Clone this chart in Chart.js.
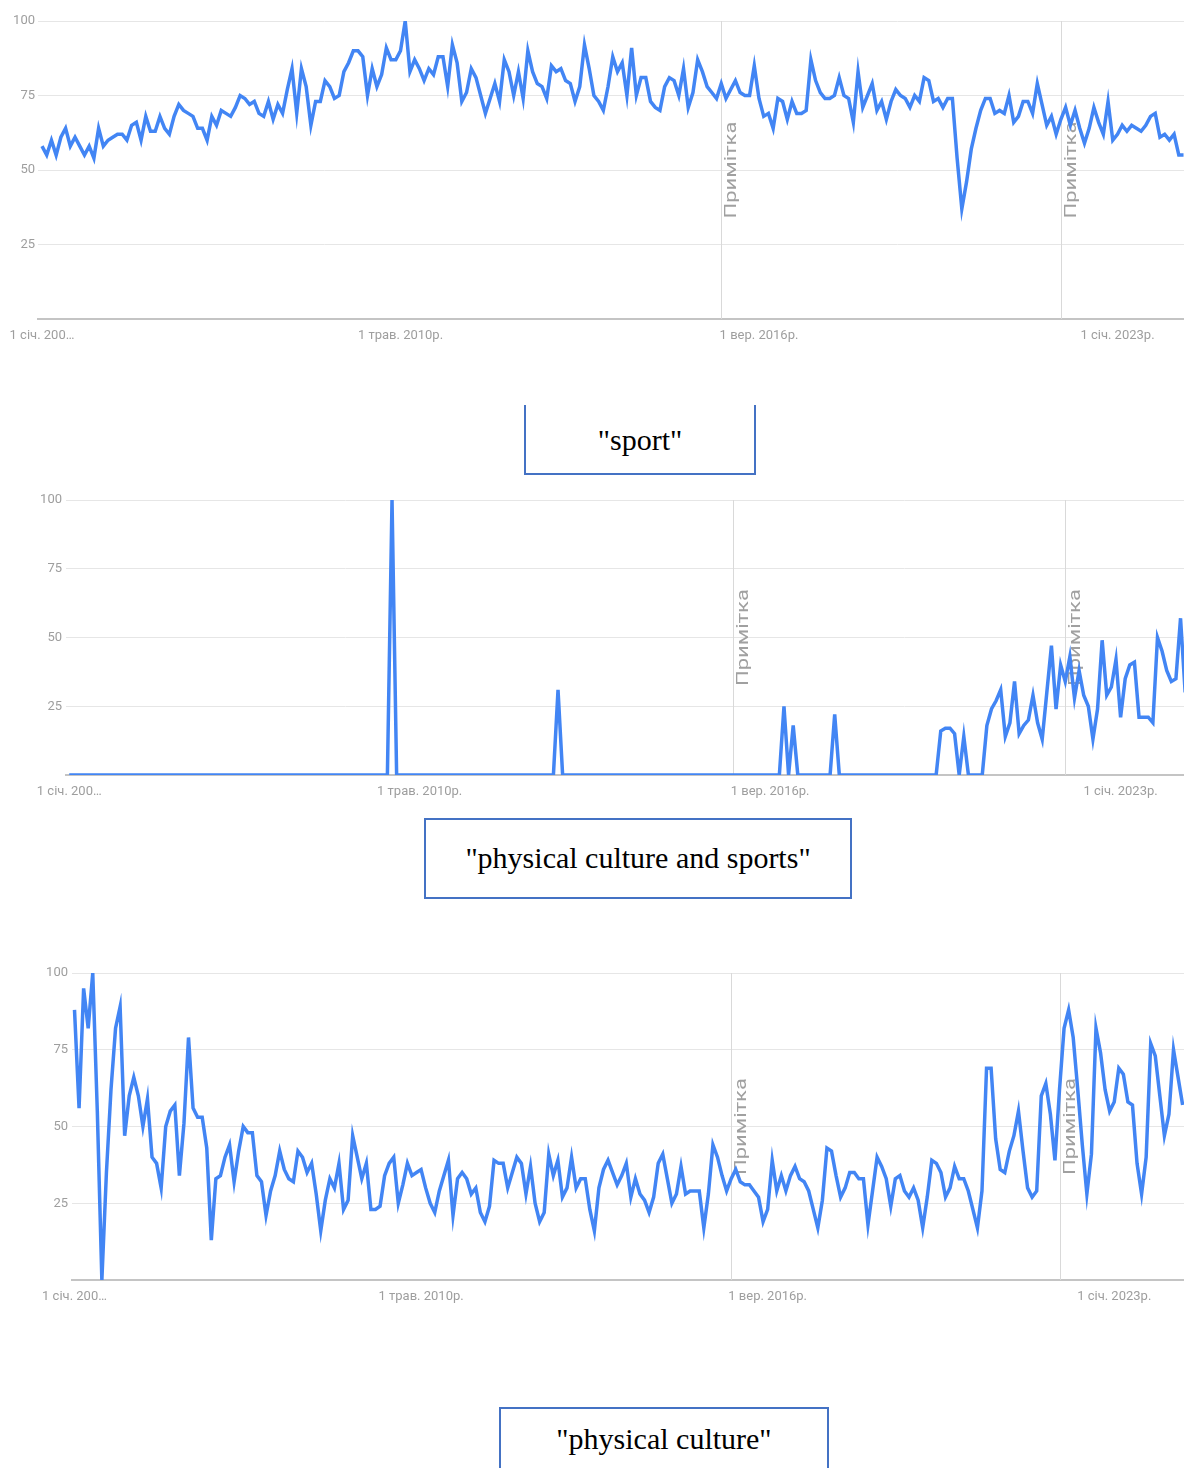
<!DOCTYPE html>
<html>
<head>
<meta charset="utf-8">
<script src="https://cdn.jsdelivr.net/npm/chart.js@4.4.1/dist/chart.umd.min.js"></script>
<style>
  html, body { margin: 0; padding: 0; background: #fff; }
  body { position: relative; width: 1184px; height: 1468px; overflow: hidden; }
  canvas { position: absolute; left: 0; }
  .box {
    position: absolute; box-sizing: border-box;
    border: 2px solid #4472c4;
    font-family: 'Liberation Serif', 'Times New Roman', serif;
    font-size: 30px; line-height: 33px; color: #000;
    text-align: center; white-space: nowrap;
  }
</style>
</head>
<body>
<canvas id="sport" width="1184" height="343" style="top:6px"></canvas>
<div class="box" style="left:524px; top:405px; width:232px; height:70px; border-top:none; padding-top:18px">"sport"</div>
<canvas id="pcs" width="1184" height="320" style="top:485px"></canvas>
<div class="box" style="left:424px; top:818px; width:428px; height:81px; padding-top:21px">"physical culture and sports"</div>
<canvas id="pc" width="1184" height="352" style="top:958px"></canvas>
<div class="box" style="left:499px; top:1407px; width:330px; height:100px; border-bottom:none; padding-top:13px">"physical culture"</div>

<script>
// monthly values, Jan 2004 onward (month index 0 = 1 січ. 2004)
const sportValues = [
  58, 55, 60, 55, 61, 64, 58, 61, 58, 55,
  58, 54, 64, 58, 60, 61, 62, 62, 60, 65,
  66, 60, 68, 63, 63, 68, 64, 62, 68, 72,
  70, 69, 68, 64, 64, 60, 68, 65, 70, 69,
  68, 71, 75, 74, 72, 73, 69, 68, 73, 67,
  72, 69, 77, 84, 69, 84, 78, 65, 73, 73,
  80, 78, 74, 75, 83, 86, 90, 90, 88, 75,
  84, 78, 82, 91, 87, 87, 90, 100, 83, 87,
  84, 80, 84, 82, 88, 88, 78, 92, 86, 73,
  76, 84, 81, 75, 69, 74, 79, 73, 87, 83,
  75, 83, 74, 90, 83, 79, 78, 74, 85, 83,
  84, 80, 79, 73, 78, 92, 84, 75, 73, 70,
  78, 88, 83, 86, 75, 91, 75, 81, 81, 73,
  71, 70, 78, 81, 80, 75, 84, 71, 76, 87,
  83, 78, 76, 74, 79, 74, 77, 80, 76, 75,
  75, 85, 74, 68, 69, 64, 74, 73, 67, 73,
  69, 69, 70, 87, 80, 76, 74, 74, 75, 81,
  75, 74, 66, 83, 71, 75, 79, 70, 73, 67,
  73, 77, 75, 74, 71, 75, 73, 81, 80, 73,
  74, 71, 74, 74, 54, 37, 46, 57, 64, 70,
  74, 74, 69, 70, 69, 75, 66, 68, 73, 73,
  69, 79, 72, 65, 68, 62, 67, 71, 65, 70,
  64, 59, 64, 71, 66, 62, 73, 60, 62, 65,
  63, 65, 64, 63, 65, 68, 69, 61, 62, 60,
  62, 55, 55
];

const physCultureSportsValues = [
  0, 0, 0, 0, 0, 0, 0, 0, 0, 0,
  0, 0, 0, 0, 0, 0, 0, 0, 0, 0,
  0, 0, 0, 0, 0, 0, 0, 0, 0, 0,
  0, 0, 0, 0, 0, 0, 0, 0, 0, 0,
  0, 0, 0, 0, 0, 0, 0, 0, 0, 0,
  0, 0, 0, 0, 0, 0, 0, 0, 0, 0,
  0, 0, 0, 0, 0, 0, 0, 0, 0, 0,
  100, 0, 0, 0, 0, 0, 0, 0, 0, 0,
  0, 0, 0, 0, 0, 0, 0, 0, 0, 0,
  0, 0, 0, 0, 0, 0, 0, 0, 0, 0,
  0, 0, 0, 0, 0, 0, 31, 0, 0, 0,
  0, 0, 0, 0, 0, 0, 0, 0, 0, 0,
  0, 0, 0, 0, 0, 0, 0, 0, 0, 0,
  0, 0, 0, 0, 0, 0, 0, 0, 0, 0,
  0, 0, 0, 0, 0, 0, 0, 0, 0, 0,
  0, 0, 0, 0, 0, 25, 0, 18, 0, 0,
  0, 0, 0, 0, 0, 0, 22, 0, 0, 0,
  0, 0, 0, 0, 0, 0, 0, 0, 0, 0,
  0, 0, 0, 0, 0, 0, 0, 0, 0, 16,
  17, 17, 15, 0, 14, 0, 0, 0, 0, 18,
  24, 27, 31, 14, 19, 34, 15, 18, 20, 29,
  19, 13, 30, 47, 24, 40, 34, 43, 28, 38,
  29, 25, 13, 24, 49, 29, 32, 42, 21, 35,
  40, 41, 21, 21, 21, 19, 50, 45, 38, 34,
  35, 57, 30
];

const physCultureValues = [
  88, 56, 95, 82, 100, 55, 0, 35, 62, 82,
  89, 47, 60, 66, 60, 50, 59, 40, 38, 30,
  50, 55, 57, 34, 51, 79, 56, 53, 53, 43,
  13, 33, 34, 40, 44, 32, 42, 50, 48, 48,
  34, 32, 21, 29, 34, 42, 36, 33, 32, 42,
  40, 35, 38, 28, 16, 26, 33, 30, 38, 23,
  26, 47, 40, 33, 38, 23, 23, 24, 34, 38,
  40, 25, 31, 38, 34, 35, 36, 30, 25, 22,
  29, 34, 39, 21, 33, 35, 33, 28, 30, 22,
  19, 24, 39, 38, 38, 30, 35, 40, 38, 28,
  37, 25, 19, 22, 41, 34, 39, 27, 30, 40,
  30, 33, 33, 23, 16, 30, 36, 39, 35, 31,
  34, 38, 27, 33, 28, 26, 22, 27, 38, 41,
  33, 25, 28, 37, 28, 29, 29, 29, 17, 28,
  44, 40, 34, 29, 33, 36, 32, 31, 31, 29,
  27, 19, 23, 39, 29, 34, 29, 34, 37, 33,
  32, 29, 23, 17, 26, 43, 42, 34, 27, 30,
  35, 35, 33, 33, 18, 29, 40, 37, 33, 24,
  33, 34, 29, 27, 30, 26, 17, 27, 39, 38,
  35, 27, 30, 37, 33, 33, 29, 23, 17, 29,
  69, 69, 46, 36, 35, 42, 47, 55, 42, 30,
  27, 29, 60, 64, 54, 39, 62, 82, 88, 79,
  62, 44, 28, 41, 82, 74, 62, 55, 58, 69,
  67, 58, 57, 38, 28, 40, 77, 73, 60, 47,
  54, 75, 66, 57
];

const tickMonths = [0, 76, 152, 228];
const tickLabels = ["1 січ. 200…", "1 трав. 2010р.", "1 вер. 2016р.", "1 січ. 2023р."];
const noteMonths = [144, 216];
const noteText = "Примітка";

const LABEL_FONT = "Roboto, 'DejaVu Sans', sans-serif";
const LABEL_COLOR = "#9e9e9e";

const notesPlugin = {
  id: "notes",
  beforeDatasetsDraw(chart) {
    const { ctx, chartArea, scales } = chart;
    ctx.save();
    noteMonths.forEach((m) => {
      const x = Math.round(scales.x.getPixelForValue(m)) + 0.5;
      ctx.strokeStyle = "#d9d9d9";
      ctx.lineWidth = 1;
      ctx.beginPath();
      ctx.moveTo(x, chartArea.top);
      ctx.lineTo(x, chartArea.bottom);
      ctx.stroke();

      // rotated note, narrowed like the screenshot
      ctx.save();
      ctx.translate(x + 2, scales.y.getPixelForValue(50));
      ctx.scale(0.78, 1);
      ctx.rotate(-Math.PI / 2);
      ctx.fillStyle = "#a0a0a0";
      ctx.font = "22px Roboto";
      ctx.textAlign = "center";
      ctx.textBaseline = "top";
      ctx.fillText(noteText, 0, 0);
      ctx.restore();
    });
    ctx.restore();
  },
};

function trendChart(id, values, gridLeft, xMin, xMax, labelPad) {
  const ctx = document.getElementById(id).getContext("2d");
  return new Chart(ctx, {
    type: "line",
    data: {
      datasets: [
        {
          data: values.map((v, i) => ({ x: i, y: v })),
          borderColor: "#4285f4",
          borderWidth: 3.5,
          pointRadius: 0,
          tension: 0,
          fill: false,
        },
      ],
    },
    plugins: [notesPlugin],
    options: {
      responsive: false,
      animation: false,
      devicePixelRatio: 1,
      layout: { padding: { top: 15, right: 0, bottom: 0, left: 0 } },
      plugins: { legend: { display: false }, tooltip: { enabled: false } },
      scales: {
        x: {
          type: "linear",
          min: xMin,
          max: xMax,
          grid: { display: false, drawTicks: false },
          border: { display: true, color: "#c4c4c4", width: 2 },
          afterBuildTicks: (s) => {
            s.ticks = tickMonths.map((v) => ({ value: v }));
          },
          afterFit: (s) => {
            s.height = 30;
          },
          ticks: {
            autoSkip: false,
            maxRotation: 0,
            padding: 9,
            color: LABEL_COLOR,
            font: { family: LABEL_FONT, size: 13 },
            callback: (v) => tickLabels[tickMonths.indexOf(v)],
          },
        },
        y: {
          min: 0,
          max: 100,
          grid: { color: "#e6e6e6", lineWidth: 1, drawTicks: false },
          border: { display: false },
          afterFit: (s) => {
            s.width = gridLeft;
          },
          ticks: {
            stepSize: 25,
            padding: labelPad,
            color: LABEL_COLOR,
            font: { family: LABEL_FONT, size: 13 },
            callback: (v) => (v === 0 ? "" : v),
          },
        },
      },
    },
  });
}

trendChart("sport", sportValues, 38, -0.85, 242.1, 3);
trendChart("pcs", physCultureSportsValues, 66, -0.7, 241.75, 4);
trendChart("pc", physCultureValues, 72, -0.55, 243.3, 4);
</script>
</body>
</html>
